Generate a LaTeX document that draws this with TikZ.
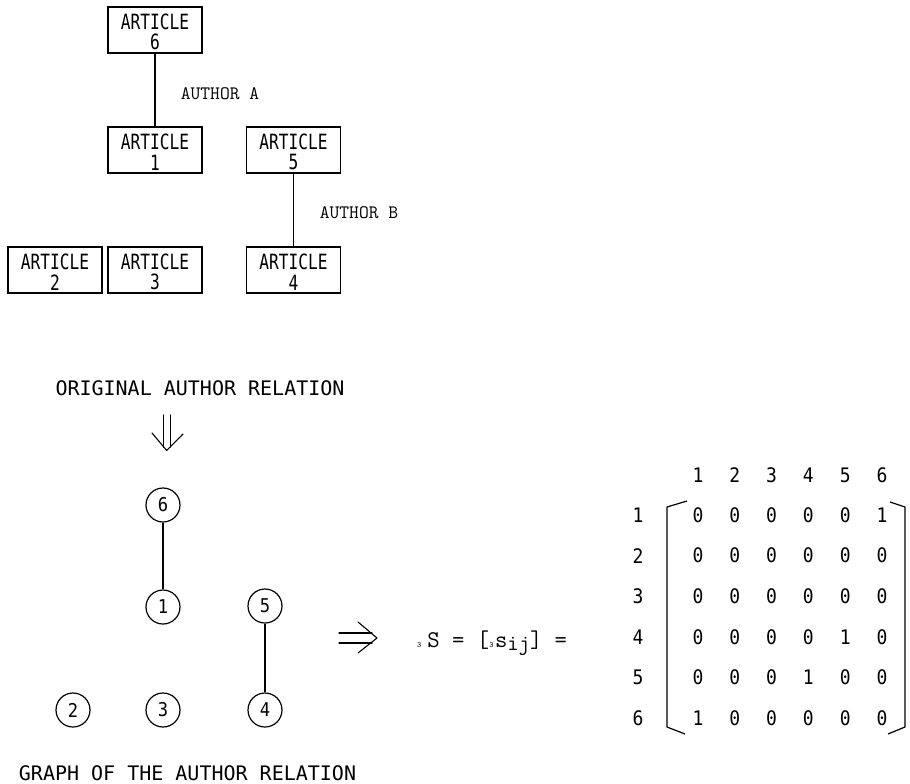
\documentclass[tikz,border=0pt]{standalone}
\usepackage{fontspec}
\newfontfamily\artfont[FakeStretch=0.77]{DejaVu Sans Mono}
\newfontfamily\capfont{DejaVu Sans Mono}
\newfontfamily\digfont[FakeStretch=0.9]{DejaVu Sans Mono}
\tikzset{
 artbox/.style={draw, line width=1.2pt, minimum width=94pt, minimum height=46pt, inner sep=0pt, align=center, font=\artfont\fontsize{21}{20.5}\selectfont},
 vert/.style={circle, draw, line width=1.2pt, minimum size=34pt, inner sep=0pt, font=\digfont\fontsize{19}{19}\selectfont},
 capt/.style={font=\capfont\fontsize{20}{20}\selectfont, inner sep=0pt},
 auth/.style={font=\ttfamily\fontsize{19}{19}\selectfont, inner sep=0pt},
 cell/.style={font=\digfont\fontsize{20}{20}\selectfont, inner sep=0pt},
 link/.style={line width=1.2pt},
 dblarrow/.style={line width=1.1pt, line cap=round, line join=round},
 brack/.style={line width=1.2pt, line join=round},
}
\newcommand{\artstrut}{\rule{0pt}{19.5pt}}
\begin{document}
\begin{tikzpicture}[x=1pt,y=-1pt]
\useasboundingbox (0,0) rectangle (910,784);
% top part
\node[artbox] (b6) at (155,30) {\artstrut ARTICLE\\6};
\node[artbox] (b1) at (155,150) {\artstrut ARTICLE\\1};
\node[artbox] (b5) at (293.5,150) {\artstrut ARTICLE\\5};
\node[artbox] (b2) at (55,270) {\artstrut ARTICLE\\2};
\node[artbox] (b3) at (155,270) {\artstrut ARTICLE\\3};
\node[artbox] (b4) at (293.5,270) {\artstrut ARTICLE\\4};
\draw[link] (b6) -- (b1);
\draw[link] (b5) -- (b4);
\node[auth] (aa) at (220,94) {AUTHOR A};
\node[auth] (ab) at (359,213) {AUTHOR B};
\node[capt] (cap1) at (200,388) {ORIGINAL AUTHOR RELATION};
% down double arrow
\draw[dblarrow] (163.3,415) -- (163.3,447) (170.7,415) -- (170.7,447);
\draw[dblarrow] (152,433) -- (166.7,450.5) -- (183,434);
% graph
\node[vert] (c6) at (163,505) {6};
\node[vert] (c1) at (163,607) {1};
\node[vert] (c5) at (265,606) {5};
\node[vert] (c2) at (73,710) {2};
\node[vert] (c3) at (163,710) {3};
\node[vert] (c4) at (265,710) {4};
\draw[link] (c6) -- (c1);
\draw[link] (c5) -- (c4);
\node[capt] (cap2) at (187.5,773) {GRAPH OF THE AUTHOR RELATION};
% right double arrow
\draw[dblarrow] (339,633) -- (372,633) (339,643) -- (372,643);
\draw[dblarrow] (358,622) -- (377,638) -- (358,653);
% formula
\node[font=\ttfamily\fontsize{24}{24}\selectfont, inner sep=0pt, anchor=base west] (form) at (417,647)
 {{\fontsize{8}{8}\selectfont 3}\hspace{6pt}S = [{\fontsize{8}{8}\selectfont 3}\hspace{1.5pt}s\raisebox{-3.5pt}{\fontsize{22}{22}\selectfont ij}] =};
% matrix
\foreach \j in {1,...,6} {
  \node[cell] (h\j) at ({698+36.8*(\j-1)},475) {\j};
  \node[cell] (r\j) at (638,{515+40.6*(\j-1)}) {\j};
}
\foreach \row [count=\i] in {{0,0,0,0,0,1},{0,0,0,0,0,0},{0,0,0,0,0,0},{0,0,0,0,1,0},{0,0,0,1,0,0},{1,0,0,0,0,0}} {
  \foreach \v [count=\j] in \row {
    \node[cell] (m\i\j) at ({698+36.8*(\j-1)},{515+40.6*(\i-1)}) {\v};
  }
}
\draw[brack] (687,501) -- (667,507) -- (667,727) -- (685,734);
\draw[brack] (890,502) -- (905,507) -- (905,727) -- (888,734);
\end{tikzpicture}
\end{document}
